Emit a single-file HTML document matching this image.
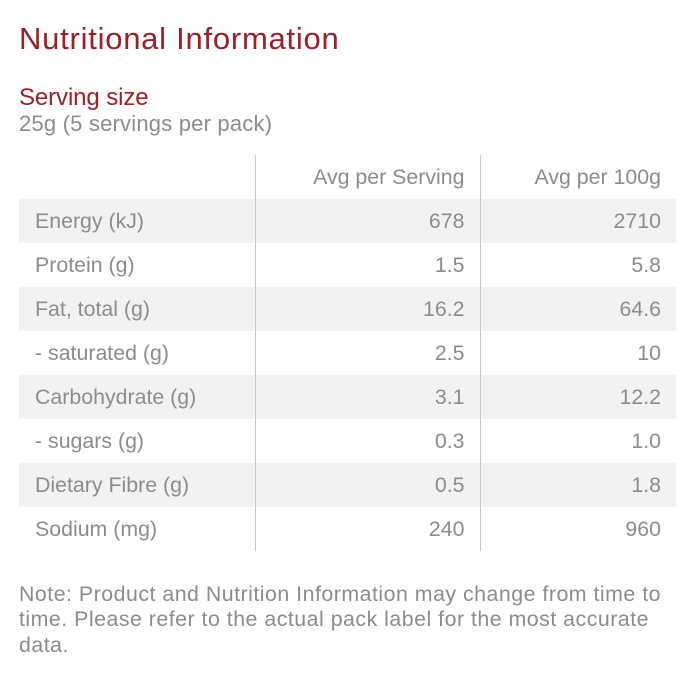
<!DOCTYPE html>
<html>
<head>
<meta charset="utf-8">
<style>
  html, body { margin: 0; padding: 0; background: #fff; }
  body { width: 697px; height: 693px; position: relative; overflow: hidden; font-family: "Liberation Sans", Arial, sans-serif; color: #8c8c8c; }
  .title { position: absolute; left: 19px; top: 21px; height: 36px; line-height: 36px; font-size: 31px; color: #9e1f26; letter-spacing: 0.75px; white-space: nowrap; }
  .ss { position: absolute; left: 19px; top: 84px; line-height: 28px; font-size: 24px; color: #9e1f26; white-space: nowrap; letter-spacing: -0.1px; }
  .ssv { position: absolute; left: 19px; top: 111px; line-height: 26px; font-size: 22px; color: #8c8c8c; white-space: nowrap; letter-spacing: 0.2px; }
  table { position: absolute; left: 19px; top: 155px; width: 657px; border-collapse: collapse; font-size: 21.33px; color: #8c8c8c; }
  td, th { height: 44px; padding: 0; line-height: 44px; font-weight: normal; white-space: nowrap; }
  .c1 { width: 236px; padding-left: 16px; text-align: left; box-sizing: border-box; }
  .c2 { width: 225px; padding-right: 15px; text-align: right; box-sizing: border-box; border-left: 1px solid #c8c8c8; }
  .c3 { width: 196px; padding-right: 15px; text-align: right; box-sizing: border-box; border-left: 1px solid #c8c8c8; }
  tr.g td { background: #f2f2f2; }
  .note { position: absolute; left: 19px; top: 582px; width: 660px; font-size: 21.33px; line-height: 25.4px; color: #8c8c8c; letter-spacing: 0.5px; }
</style>
</head>
<body>
<div class="title">Nutritional Information</div>
<div class="ss">Serving size</div>
<div class="ssv">25g (5 servings per pack)</div>
<table>
  <tr><th class="c1"></th><th class="c2">Avg per Serving</th><th class="c3">Avg per 100g</th></tr>
  <tr class="g"><td class="c1">Energy (kJ)</td><td class="c2">678</td><td class="c3">2710</td></tr>
  <tr><td class="c1">Protein (g)</td><td class="c2">1.5</td><td class="c3">5.8</td></tr>
  <tr class="g"><td class="c1">Fat, total (g)</td><td class="c2">16.2</td><td class="c3">64.6</td></tr>
  <tr><td class="c1">- saturated (g)</td><td class="c2">2.5</td><td class="c3">10</td></tr>
  <tr class="g"><td class="c1">Carbohydrate (g)</td><td class="c2">3.1</td><td class="c3">12.2</td></tr>
  <tr><td class="c1">- sugars (g)</td><td class="c2">0.3</td><td class="c3">1.0</td></tr>
  <tr class="g"><td class="c1">Dietary Fibre (g)</td><td class="c2">0.5</td><td class="c3">1.8</td></tr>
  <tr><td class="c1">Sodium (mg)</td><td class="c2">240</td><td class="c3">960</td></tr>
</table>
<div class="note">Note: Product and Nutrition Information may change from time to<br>time. Please refer to the actual pack label for the most accurate<br>data.</div>
</body>
</html>
